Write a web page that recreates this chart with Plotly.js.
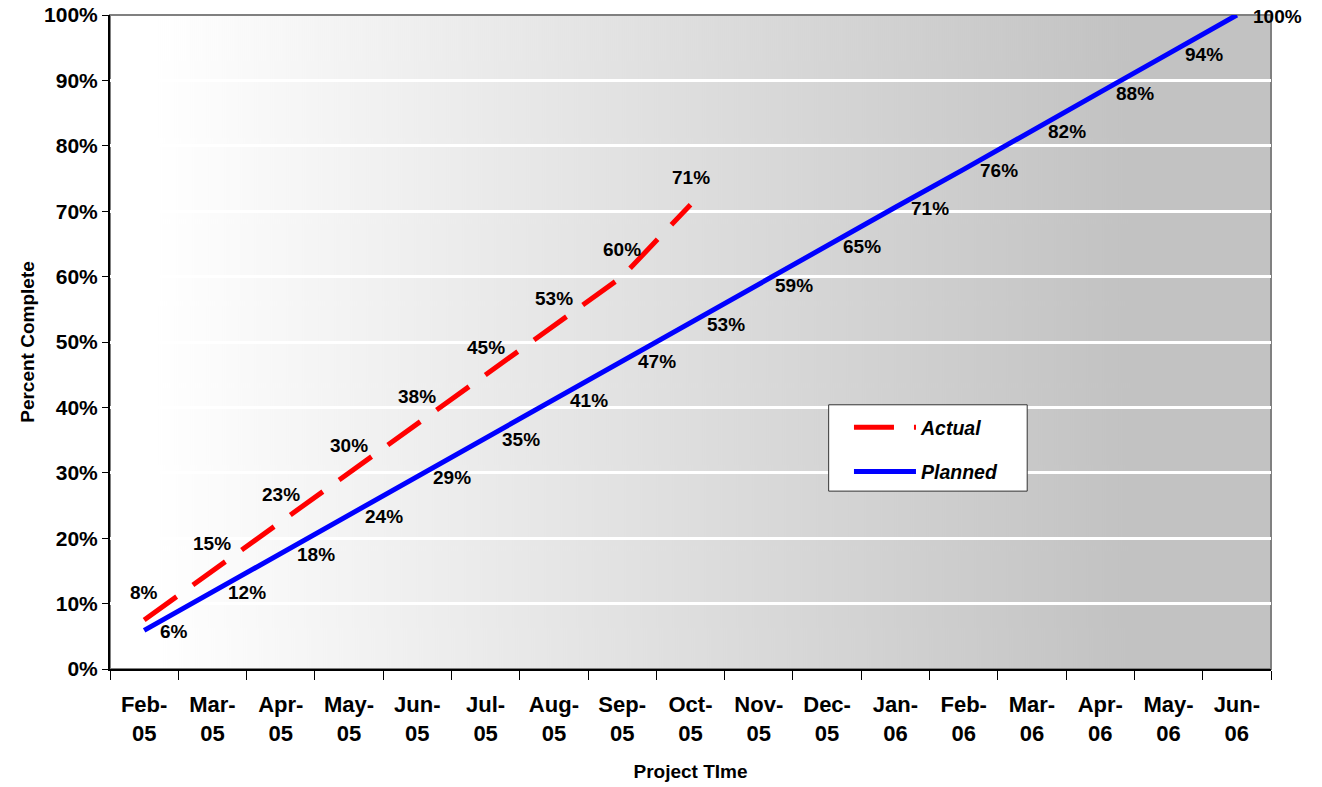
<!DOCTYPE html>
<html>
<head>
<meta charset="utf-8">
<script src="https://cdn.plot.ly/plotly-3.0.1.min.js"></script>
<style>html,body{margin:0;padding:0;background:#fff;}#chart{width:1322px;height:787px;}</style>
</head>
<body>
<div id="chart"></div>
<script>
const months = ['Feb-05','Mar-05','Apr-05','May-05','Jun-05','Jul-05','Aug-05','Sep-05','Oct-05','Nov-05','Dec-05','Jan-06','Feb-06','Mar-06','Apr-06','May-06','Jun-06'];
const monthLabels = ['Feb-<br>05','Mar-<br>05','Apr-<br>05','May-<br>05','Jun-<br>05','Jul-<br>05','Aug-<br>05','Sep-<br>05','Oct-<br>05','Nov-<br>05','Dec-<br>05','Jan-<br>06','Feb-<br>06','Mar-<br>06','Apr-<br>06','May-<br>06','Jun-<br>06'];
const actualMonths = ['Feb-05','Mar-05','Apr-05','May-05','Jun-05','Jul-05','Aug-05','Sep-05','Oct-05'];
const actualValues = [7.5, 15, 22.5, 30, 37.5, 45, 52.5, 60, 71];
const plannedValues = [5.9, 11.8, 17.6, 23.5, 29.4, 35.3, 41.2, 47.1, 52.9, 58.8, 64.7, 70.6, 76.4, 82.4, 88.2, 94.1, 100];
const yTicks = [0,10,20,30,40,50,60,70,80,90,100];
const yTickLabels = ['0%','10%','20%','30%','40%','50%','60%','70%','80%','90%','100%'];

const FONT = 'Liberation Sans, Arial, Helvetica, sans-serif';

// gradient background image
const cv = document.createElement('canvas');
cv.width = 1161; cv.height = 8;
const cx = cv.getContext('2d');
const g = cx.createLinearGradient(0,0,cv.width,0);
g.addColorStop(0,'#ffffff');
g.addColorStop(0.04,'#ffffff');
g.addColorStop(0.88,'#c2c2c2');
g.addColorStop(1,'#c2c2c2');
cx.fillStyle = g; cx.fillRect(0,0,cv.width,cv.height);
const bgUrl = cv.toDataURL('image/png');

const traces = [
  {
    x: actualMonths, y: actualValues, name: 'Actual', type: 'scatter', mode: 'lines',
    legendgroup: 'a',
    line: {color: '#ff0000', width: 5, dash: '40px,20px'}, cliponaxis: false
  },
  {
    x: months, y: plannedValues, name: 'Planned', type: 'scatter', mode: 'lines',
    legendgroup: 'p',
    line: {color: '#0000ff', width: 5}, cliponaxis: false
  }
];

const labelFont = {family: FONT, size: 19, color: '#000', weight: 'bold'};
const annotations = [];
actualMonths.forEach((m,i) => annotations.push({
  x: m, y: actualValues[i], xref: 'x', yref: 'y', text: Math.round(actualValues[i]) + '%',
  showarrow: false, xanchor: 'center', yanchor: 'middle', yshift: 27, font: labelFont
}));
months.forEach((m,i) => annotations.push({
  x: m, y: plannedValues[i], xref: 'x', yref: 'y', text: Math.round(plannedValues[i]) + '%',
  showarrow: false, xanchor: 'left', yanchor: 'middle', xshift: 14, yshift: -1, font: labelFont
}));

const layout = {
  width: 1322, height: 787,
  margin: {l: 110, r: 51, t: 15, b: 118},
  paper_bgcolor: '#ffffff',
  plot_bgcolor: 'rgba(0,0,0,0)',
  font: {family: FONT, color: '#000'},
  showlegend: true,
  legend: {
    x: 0.6365, y: 0.399, xanchor: 'left', yanchor: 'top',
    bgcolor: 'rgba(0,0,0,0)', borderwidth: 0,
    traceorder: 'grouped', tracegroupgap: 16,
    font: {family: FONT, size: 19.5, color: '#000', weight: 'bold', style: 'italic'},
    itemwidth: 62
  },
  xaxis: {
    type: 'category', categoryorder: 'array', categoryarray: months,
    range: [-0.5, 16.5], tickvals: months, ticktext: monthLabels,
    tickson: 'boundaries', ticks: 'outside', ticklen: 9, tickcolor: '#000', tickwidth: 1,
    showline: true, linecolor: '#000', linewidth: 2, showgrid: false, zeroline: false,
    tickfont: {family: FONT, size: 22, color: '#000', weight: 'bold'},
    ticklabelstandoff: 15,
    title: {text: 'Project TIme', font: {family: FONT, size: 19, color: '#000', weight: 'bold'}, standoff: 20},
    fixedrange: true
  },
  yaxis: {
    range: [0, 100], tickvals: yTicks, ticktext: yTickLabels,
    ticks: 'outside', ticklen: 6, tickcolor: '#000', tickwidth: 1,
    showline: true, linecolor: '#000', linewidth: 2,
    showgrid: true, gridcolor: '#ffffff', gridwidth: 3, zeroline: false,
    tickfont: {family: FONT, size: 21, color: '#000', weight: 'bold'},
    title: {text: 'Percent Complete', font: {family: FONT, size: 19, color: '#000', weight: 'bold'}, standoff: 4},
    fixedrange: true
  },
  images: [{
    source: bgUrl, xref: 'paper', yref: 'paper', x: 0, y: 1, sizex: 1, sizey: 1,
    sizing: 'stretch', layer: 'below', xanchor: 'left', yanchor: 'top'
  }],
  shapes: [
    {
      type: 'rect', xref: 'paper', yref: 'paper', x0: 0, x1: 1, y0: 0, y1: 1,
      line: {color: '#808080', width: 2}, layer: 'below'
    },
    {
      type: 'rect', xref: 'paper', yref: 'paper', x0: 0.619, x1: 0.790, y0: 0.272, y1: 0.404,
      fillcolor: '#ffffff', line: {color: '#333333', width: 1}, layer: 'above'
    }
  ],
  annotations: annotations
};

Plotly.newPlot('chart', traces, layout, {displayModeBar: false, staticPlot: true});
</script>
</body>
</html>
